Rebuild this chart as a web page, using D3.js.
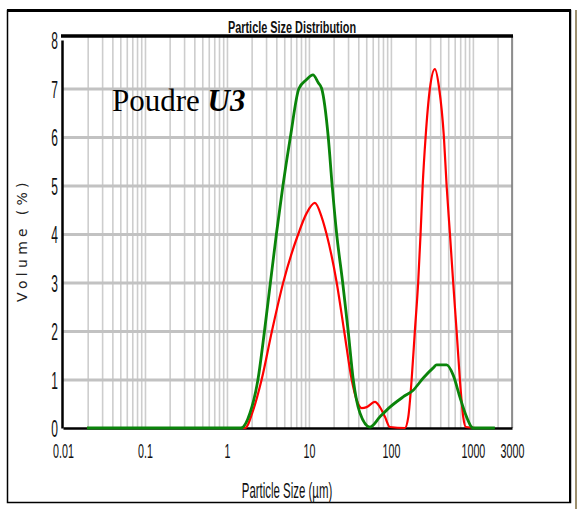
<!DOCTYPE html>
<html>
<head>
<meta charset="utf-8">
<script src="https://cdn.jsdelivr.net/npm/d3@7"></script>
<style>
body { margin: 0; background: #fff; }
svg { display: block; }
</style>
</head>
<body>
<script>
// particle size (um) and volume (%)
var sizeGreen = [0.0196, 1.48, 1.91, 2.39, 2.87, 3.39, 4.01, 4.82, 5.94, 7.55, 9.3, 11.2, 13.0, 14.3, 17.2, 19.2, 21.8, 25.8, 30.1, 34.7, 41.9, 55.5, 73.5, 97.2, 141, 187, 248, 328, 361, 478, 575, 694, 837, 964, 1000, 1854];
var volGreen  = [0, 0, 0.31, 1, 2, 3, 4, 5, 6, 7, 7.18, 7.28, 7.12, 7, 6, 5, 4, 3, 2, 1, 0.31, 0.02, 0.23, 0.43, 0.64, 0.78, 1.03, 1.24, 1.3, 1.3, 1.09, 0.64, 0.23, 0.02, 0, 0];

var sizeRed = [0.0196, 1.66, 2.09, 2.65, 3.54, 4.86, 7.41, 9.38, 11.8, 14.3, 16.4, 21.8, 26.9, 33.2, 38.2, 44.0, 50.6, 63.8, 73.5, 84.6, 97.2, 148, 163, 179, 196, 215, 230, 244, 265, 299, 344, 388, 443, 478, 525, 575, 633, 694, 762, 822, 1089];
var volRed  = [0, 0, 0.37, 1, 2, 3, 4, 4.43, 4.64, 4.35, 4, 3, 2, 1, 0.58, 0.41, 0.43, 0.54, 0.43, 0.23, 0.02, 0, 0.23, 1, 2, 3, 4, 5, 6, 7, 7.4, 7, 6, 5, 4, 3, 2, 1, 0.23, 0.02, 0];

var xTickValues = [0.01, 0.1, 1, 10, 100, 1000, 3000];
var yTickValues = [0, 1, 2, 3, 4, 5, 6, 7, 8];
var yGridValues = [1, 2, 3, 4, 5, 6, 7];

var w = 578, h = 509;
var pLeft = 63, pRight = 512, pTop = 36, pBottom = 428;

var svg = d3.select("body")
            .append("svg")
            .attr("width", w)
            .attr("height", h);

// outer frame
svg.append("rect")
   .attr("x", 7.5).attr("y", 10.5)
   .attr("width", 563).attr("height", 492)
   .attr("fill", "none")
   .attr("stroke", "#000")
   .attr("stroke-width", 1.5);
svg.append("line")
   .attr("x1", 7).attr("x2", 571).attr("y1", 10.5).attr("y2", 10.5)
   .attr("stroke", "#000").attr("stroke-width", 3);
svg.append("line")
   .attr("x1", 570).attr("x2", 570).attr("y1", 10).attr("y2", 503)
   .attr("stroke", "#000").attr("stroke-width", 2);
svg.append("line")
   .attr("x1", 576).attr("x2", 576).attr("y1", 10).attr("y2", 509)
   .attr("stroke", "#9c8f6e").attr("stroke-width", 2);

var xScale = d3.scaleLog()
               .domain([0.01, 3000])
               .range([pLeft, pRight]);

var yScale = d3.scaleLinear()
               .domain([0, 8])
               .range([pBottom, 40]);

// vertical grid (log minors)
var xGrid = d3.axisBottom(xScale)
              .tickValues(xScale.ticks().filter(d => d > 0.01 && d <= 3000))
              .tickSize(-(pBottom - pTop))
              .tickFormat("");
svg.append("g")
   .attr("transform", "translate(0," + pBottom + ")")
   .call(xGrid)
   .call(g => g.select(".domain").remove())
   .call(g => g.selectAll("line").attr("stroke", "#cdcdcd").attr("stroke-width", 1.6));

// horizontal grid
var yGrid = d3.axisLeft(yScale)
              .tickValues(yGridValues)
              .tickSize(-(pRight - pLeft))
              .tickFormat("");
svg.append("g")
   .attr("transform", "translate(" + pLeft + ",0)")
   .call(yGrid)
   .call(g => g.select(".domain").remove())
   .call(g => g.selectAll("line").attr("stroke", "#c2c2c2").attr("stroke-width", 3));

// plot frame
svg.append("line")
   .attr("x1", pRight).attr("x2", pRight).attr("y1", pTop).attr("y2", pBottom)
   .attr("stroke", "#777").attr("stroke-width", 1.5);
svg.append("line")
   .attr("x1", pLeft - 2).attr("x2", pRight + 1).attr("y1", pTop).attr("y2", pTop)
   .attr("stroke", "#000").attr("stroke-width", 3.5);

var sans = "'Liberation Sans', Arial, sans-serif";

var yAxis = d3.axisLeft(yScale)
              .tickValues(yTickValues)
              .tickSize(0)
              .tickPadding(0);
svg.append("g")
   .attr("transform", "translate(" + (pLeft - 1) + ",0)")
   .call(yAxis)
   .call(g => g.select(".domain").attr("stroke", "#000").attr("stroke-width", 2.5))
   .call(g => g.selectAll("text")
               .attr("x", -4 / 0.5)
               .attr("dy", "0.36em")
               .attr("transform", "scale(0.5,1)")
               .attr("fill", "#111")
               .style("font-family", sans)
               .style("font-size", "24px"));

var xAxis = d3.axisBottom(xScale)
              .tickValues(xTickValues)
              .tickSize(0)
              .tickPadding(0)
              .tickFormat(d => String(d));
svg.append("g")
   .attr("transform", "translate(0," + pBottom + ")")
   .call(xAxis)
   .call(g => g.select(".domain").attr("stroke", "#000").attr("stroke-width", 2.5))
   .call(g => g.selectAll("text")
               .attr("y", 30)
               .attr("dy", 0)
               .attr("transform", "scale(0.51,1)")
               .attr("fill", "#111")
               .style("font-family", sans)
               .style("font-size", "21px"));

var line = d3.line()
             .x(d => xScale(d[0]))
             .y(d => yScale(d[1]))
             .curve(d3.curveMonotoneX);

svg.append("path")
   .datum(d3.zip(sizeRed, volRed))
   .attr("d", line)
   .attr("fill", "none")
   .attr("stroke", "#ff0000")
   .attr("stroke-width", 2.2);

svg.append("path")
   .datum(d3.zip(sizeGreen, volGreen))
   .attr("d", line)
   .attr("fill", "none")
   .attr("stroke", "#0a840a")
   .attr("stroke-width", 2.8);

// texts
svg.append("text")
   .attr("transform", "translate(292,33) scale(0.68,1)")
   .attr("text-anchor", "middle")
   .style("font-family", sans)
   .style("font-weight", "bold")
   .style("font-size", "16px")
   .attr("fill", "#111")
   .text("Particle Size Distribution");

svg.append("text")
   .attr("transform", "translate(287,498) scale(0.52,1)")
   .attr("text-anchor", "middle")
   .style("font-family", sans)
   .style("font-size", "22px")
   .attr("fill", "#111")
   .text("Particle Size (µm)");

svg.append("text")
   .attr("transform", "translate(27,240) rotate(-90)")
   .attr("text-anchor", "middle")
   .style("font-family", "'DejaVu Sans', Verdana, sans-serif")
   .style("font-size", "14px")
   .style("letter-spacing", "4.3px")
   .attr("fill", "#222")
   .text("Volume (%)");

var label = svg.append("text")
   .attr("x", 112)
   .attr("y", 111)
   .style("font-family", "'Liberation Serif', 'Times New Roman', serif")
   .style("font-size", "31px")
   .attr("fill", "#000");
label.append("tspan").text("Poudre ");
label.append("tspan")
     .style("font-weight", "bold")
     .style("font-style", "italic")
     .text("U3");
</script>
</body>
</html>
